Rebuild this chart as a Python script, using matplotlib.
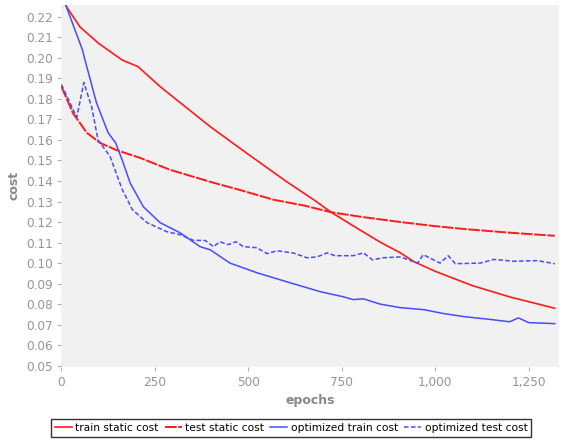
import matplotlib
matplotlib.use("Agg")
import matplotlib.pyplot as plt
from matplotlib.ticker import FuncFormatter, MultipleLocator

# values
train_static_x = [0, 15, 50, 100, 162, 205, 264, 398, 500, 600, 674, 724, 800,
                  855, 907, 943, 1000, 1100, 1200, 1320]
train_static_y = [0.231, 0.2245, 0.215, 0.207, 0.199, 0.1957, 0.186, 0.1665,
                  0.153, 0.140, 0.131, 0.1245, 0.116, 0.110, 0.105, 0.1007,
                  0.096, 0.089, 0.0835, 0.078]

test_static_x = [0, 31, 68, 103, 148, 210, 290, 398, 480, 567, 650, 724, 800,
                 907, 1000, 1078, 1200, 1320]
test_static_y = [0.186, 0.173, 0.1635, 0.1586, 0.155, 0.1513, 0.1455, 0.1396,
                 0.1355, 0.1309, 0.128, 0.1247, 0.1226, 0.120, 0.118, 0.1166,
                 0.1148, 0.1133]

opt_train_x = [0, 13, 56, 63, 94, 125, 145, 163, 184, 219, 264, 318, 371, 398,
               451, 523, 612, 692, 754, 781, 808, 853, 907, 970, 1020, 1078,
               1150, 1199, 1223, 1250, 1320]
opt_train_y = [0.2315, 0.225, 0.204, 0.199, 0.178, 0.1635, 0.1586, 0.150,
               0.139, 0.1275, 0.1197, 0.1147, 0.108, 0.1065, 0.100, 0.0953,
               0.0904, 0.0861, 0.0836, 0.0822, 0.0826, 0.080, 0.0783, 0.0773,
               0.0755, 0.0739, 0.0725, 0.0714, 0.0733, 0.071, 0.0705]

opt_test_x = [0, 41, 60, 81, 98, 130, 163, 190, 229, 282, 318, 353, 385, 407,
              424, 446, 467, 487, 523, 550, 577, 621, 657, 684, 711, 732, 781,
              808, 832, 861, 907, 953, 968, 1013, 1035, 1054, 1121, 1157, 1210,
              1274, 1320]
opt_test_y = [0.187, 0.171, 0.188, 0.176, 0.160, 0.152, 0.1357, 0.126, 0.1197,
              0.1153, 0.1138, 0.1111, 0.111, 0.108, 0.1104, 0.109, 0.1104,
              0.108, 0.1075, 0.1046, 0.106, 0.1049, 0.1026, 0.103, 0.105,
              0.1036, 0.1036, 0.105, 0.1016, 0.1026, 0.103, 0.100, 0.1041,
              0.100, 0.1036, 0.0997, 0.100, 0.1018, 0.1009, 0.1012, 0.0997]

RED = "#ff1a1a"
BLUE = "#4a4aff"
GRAY = "#959595"

fig = plt.figure(figsize=(5.74, 4.44), dpi=100)
ax = fig.add_axes([0.107, 0.174, 0.866, 0.815])
ax.set_facecolor("#f1f1f1")

ax.plot(train_static_x, train_static_y, color=RED, lw=1.2, label="train static cost")
ax.plot(test_static_x, test_static_y, color=RED, lw=1.4, dashes=(6, 0.8),
        label="test static cost")
ax.plot(opt_train_x, opt_train_y, color=BLUE, lw=1.1, label="optimized train cost")
ax.plot(opt_test_x, opt_test_y, color=BLUE, lw=1.1, dashes=(3, 1.5),
        label="optimized test cost")

ax.set_xlim(0, 1330)
ax.set_ylim(0.0495, 0.2258)
ax.xaxis.set_major_locator(MultipleLocator(250))
ax.yaxis.set_major_locator(MultipleLocator(0.01))
ax.xaxis.set_major_formatter(FuncFormatter(lambda v, p: f"{int(v):,}"))
ax.yaxis.set_major_formatter(FuncFormatter(lambda v, p: f"{v:.2f}"))

for s in ax.spines.values():
    s.set_visible(False)
ax.tick_params(direction="out", length=3, width=0.8, color="#b0b0b0",
               labelcolor=GRAY, labelsize=8.7, pad=3)
ax.tick_params(axis="x", pad=4)

ax.set_xlabel("epochs", color="#888888", fontsize=9, fontweight="bold", labelpad=3)
ax.set_ylabel("cost", color="#888888", fontsize=9, fontweight="bold", labelpad=4)

leg = fig.legend(loc="center", bbox_to_anchor=(0.507, 0.036), ncol=4,
                 fontsize=7.7, frameon=True, fancybox=False, handlelength=1.6,
                 handletextpad=0.3, columnspacing=0.6, borderpad=0.35)
leg.get_frame().set_edgecolor("black")
leg.get_frame().set_linewidth(1.0)

fig.savefig("out.png", dpi=100)
